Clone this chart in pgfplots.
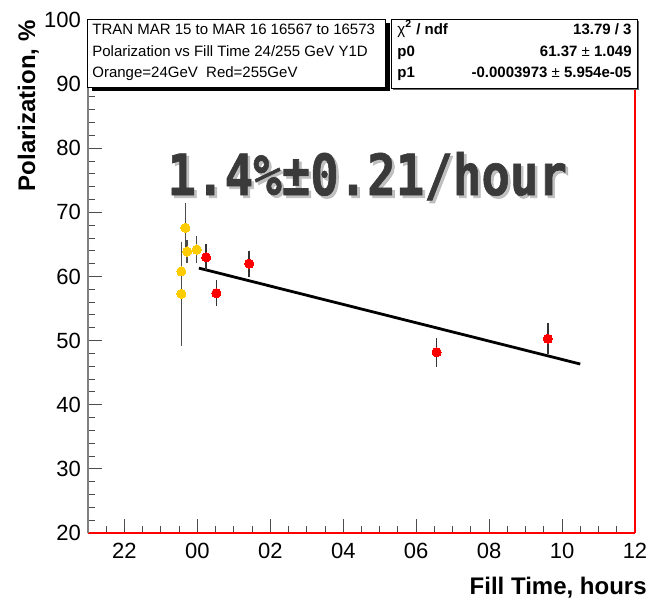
\documentclass[border=0pt]{standalone}
\usepackage{fontspec}
\setmainfont{Liberation Sans}
\newfontfamily\bigmono[BoldFeatures={FakeBold=1.2}]{DejaVu Sans Mono}
\usepackage{pgfplots}
\pgfplotsset{compat=1.18}
\definecolor{ygold}{RGB}{255,204,0}
\definecolor{bigtxt}{RGB}{58,58,58}

\pgfplotstableread{
x y e
-0.33 67.6 3.4
-0.28 63.9 1.3
-0.02 64.2 1.7
-0.44 60.8 1.7
-0.44 57.3 7.7
}\yellowdata
\pgfplotstableread{
x y e
0.24 63.0 1.6
0.52 57.4 1.6
1.42 62.0 1.6
6.56 48.2 1.8
9.61 50.3 1.95
}\reddata

\begin{document}
\begin{tikzpicture}
\path[use as bounding box] (0,0) rectangle (325pt,-300pt);
\begin{axis}[
  at={(44pt,-266.5pt)}, anchor=south west,
  scale only axis, width=273.5pt, height=256.5pt,
  xmin=-3, xmax=12, ymin=20, ymax=100,
  axis lines*=left,
  x axis line style={red, line width=0.6pt},
  y axis line style={gray, line width=0.6pt},
  xtick={-2,0,...,12}, xticklabels={22,00,02,04,06,08,10,12},
  minor xtick={-3,-2.5,...,12},
  ytick={20,30,...,100},
  minor ytick={20,22,...,100},
  tick align=inside,
  major tick length=7pt, minor tick length=3.5pt,
  tick style={gray!60!black, line width=0.5pt},
  ticklabel style={font=\fontsize{11}{13}\selectfont},
  xticklabel style={yshift=-1.3pt},
  /pgf/number format/assume math mode=true,
  clip=false,
]
\addplot[black, line width=1.4pt] coordinates {(0.04,61.31) (10.5,46.35)};
\addplot[ygold, only marks, mark=*, mark size=2.3pt, mark options={draw=ygold, fill=ygold, line width=0pt},
  error bars/.cd, y dir=both, y explicit,
  error bar style={gray!60!black, line width=0.7pt},
  error mark options={gray!60!black, mark size=1.4pt, line width=0.7pt}]
  table[x=x, y=y, y error=e] {\yellowdata};
\addplot[red, only marks, mark=*, mark size=2.3pt, mark options={draw=red, fill=red, line width=0pt},
  error bars/.cd, y dir=both, y explicit,
  error bar style={gray!40!black, line width=0.7pt},
  error mark options={gray!40!black, mark size=1.4pt, line width=0.7pt}]
  table[x=x, y=y, y error=e] {\reddata};
\draw[red, line width=0.6pt] (rel axis cs:1,0) -- (rel axis cs:1,1);
\node[black!30, opacity=0.8, anchor=base, yscale=1.2, font=\bigmono\bfseries\fontsize{23.7}{28}\selectfont, inner sep=0] at ([xshift=1.3pt,yshift=-1.3pt]axis cs:4.66,72.7) {1.4\%±0.21/hour};
\node[bigtxt, anchor=base, yscale=1.2, font=\bigmono\bfseries\fontsize{23.7}{28}\selectfont, inner sep=0] at (axis cs:4.66,72.7) {1.4\%±0.21/hour};
\end{axis}
\begin{scope}[x=0.5pt,y=-0.5pt]
  % left pave
  \fill[black] (92,23) rectangle (390,91);
  \filldraw[fill=white, draw=black, line width=0.5pt] (88,19) rectangle (386,87);
  \begin{scope}[every node/.style={anchor=base west, inner sep=0, font=\fontsize{7.5}{9}\selectfont}]
    \node at (92,34) {TRAN MAR 15 to MAR 16 16567 to 16573};
    \node at (92,56) {Polarization vs Fill Time 24/255 GeV Y1D};
    \node at (92,77) {Orange=24GeV\ \ Red=255GeV};
  \end{scope}
  % right stats box
  \fill[black!60] (393.5,20.5) rectangle (639.5,89.5);
  \filldraw[fill=white, draw=black, line width=0.5pt] (392,19) rectangle (638,88);
  \begin{scope}[every node/.style={inner sep=0, font=\bfseries\fontsize{7.5}{9}\selectfont}]
    \node[anchor=base west] at (397,34) {{\mdseries χ}\textsuperscript{2} / ndf};
    \node[anchor=base east] at (632,34) {13.79 / 3};
    \node[anchor=base west] at (397,56) {p0};
    \node[anchor=base east] at (632,56) {61.37 {\mdseries ±} 1.049};
    \node[anchor=base west] at (397,77) {p1};
    \node[anchor=base east] at (632,77) {-0.0003973 {\mdseries ±} 5.954e-05};
  \end{scope}
  % axis titles
  \node[anchor=base east, inner sep=0, font=\bfseries\fontsize{12}{14}\selectfont] at (647,594) {Fill Time, hours};
  \node[anchor=base east, rotate=90, inner sep=0, font=\bfseries\fontsize{12}{14}\selectfont] at (35,20) {Polarization, \%};
\end{scope}
\end{tikzpicture}
\end{document}
